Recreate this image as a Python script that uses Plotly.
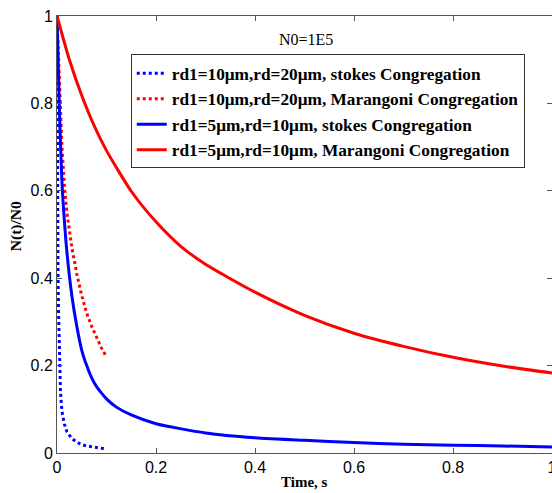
import plotly.graph_objects as go

# Blue dotted: rd1=10um, rd=20um, stokes
t_bd = [0, 0.0005, 0.001, 0.002, 0.003, 0.005, 0.007, 0.01, 0.015, 0.02, 0.03, 0.04, 0.05, 0.06, 0.07, 0.08, 0.09, 0.1]
v_bd = [1.0, 0.75, 0.6, 0.42, 0.33, 0.2, 0.14, 0.095, 0.066, 0.049, 0.033, 0.025, 0.019, 0.016, 0.014, 0.012, 0.011, 0.01]

# Red dotted: rd1=10um, rd=20um, Marangoni
t_rd = [0, 0.005, 0.01, 0.015, 0.02, 0.03, 0.04, 0.05, 0.06, 0.07, 0.08, 0.09, 0.1]
v_rd = [1.0, 0.84, 0.70, 0.61, 0.55, 0.47, 0.41, 0.36, 0.32, 0.29, 0.265, 0.24, 0.22]

# Blue solid: rd1=5um, rd=10um, stokes
t_bs = [0, 0.005, 0.01, 0.015, 0.02, 0.03, 0.04, 0.05, 0.06, 0.07, 0.08, 0.09, 0.1, 0.12, 0.15, 0.2, 0.3, 0.4, 0.5, 0.6, 0.7, 0.8, 0.9, 1.0]
v_bs = [1.0, 0.78, 0.62, 0.53, 0.46, 0.36, 0.29, 0.235, 0.2, 0.172, 0.152, 0.137, 0.124, 0.105, 0.087, 0.067, 0.046, 0.035, 0.029, 0.024, 0.020, 0.018, 0.016, 0.014]

# Red solid: rd1=5um, rd=10um, Marangoni
t_rs = [0, 0.025, 0.05, 0.075, 0.1, 0.15, 0.2, 0.25, 0.3, 0.4, 0.5, 0.6, 0.7, 0.8, 0.9, 1.0]
v_rs = [1.0, 0.90, 0.818, 0.749, 0.692, 0.599, 0.529, 0.473, 0.432, 0.368, 0.315, 0.274, 0.244, 0.219, 0.199, 0.183]

names = [
    "rd1=10μm,rd=20μm, stokes Congregation",
    "rd1=10μm,rd=20μm, Marangoni Congregation",
    "rd1=5μm,rd=10μm, stokes Congregation",
    "rd1=5μm,rd=10μm, Marangoni Congregation",
]

x_ticks = [0, 0.2, 0.4, 0.6, 0.8, 1]
x_ticklabels = ["0", "0.2", "0.4", "0.6", "0.8", "1"]
y_ticks = [0, 0.2, 0.4, 0.6, 0.8, 1]
y_ticklabels = ["0", "0.2", "0.4", "0.6", "0.8", "1"]

BLUE = "#0000ff"
RED = "#ff0000"
SERIF = "Liberation Serif, Times New Roman"

fig = go.Figure()
fig.add_trace(go.Scatter(x=t_bd, y=v_bd, mode="lines", name="<b>" + names[0] + "</b>",
                         line=dict(color=BLUE, width=3, dash="dot")))
fig.add_trace(go.Scatter(x=t_rd, y=v_rd, mode="lines", name="<b>" + names[1] + "</b>",
                         line=dict(color=RED, width=3, dash="dot")))
fig.add_trace(go.Scatter(x=t_bs, y=v_bs, mode="lines", name="<b>" + names[2] + "</b>",
                         line=dict(color=BLUE, width=3, shape="spline", smoothing=0.6)))
fig.add_trace(go.Scatter(x=t_rs, y=v_rs, mode="lines", name="<b>" + names[3] + "</b>",
                         line=dict(color=RED, width=3, shape="spline", smoothing=0.6)))

axis_common = dict(
    showline=True, linecolor="#555555", linewidth=1, mirror="allticks",
    ticks="inside", ticklen=5, tickcolor="#555555",
    showgrid=False, zeroline=False, automargin=False, ticklabeloverflow="allow",
    tickfont=dict(family="Liberation Sans, Arial", size=16, color="#000000"),
)

fig.update_layout(
    width=552, height=493,
    margin=dict(l=57, r=0, t=16, b=40),
    paper_bgcolor="white", plot_bgcolor="white",
    xaxis=dict(range=[0, 1], tickvals=x_ticks, ticktext=x_ticklabels, **axis_common),
    yaxis=dict(range=[0, 1], tickvals=y_ticks, ticktext=y_ticklabels, **axis_common),
    legend=dict(x=0.149, y=0.912, xanchor="left", yanchor="top",
                bgcolor="white", bordercolor="#333333", borderwidth=1,
                font=dict(family=SERIF, size=17.3, color="#000"),
                itemwidth=30, tracegroupgap=0),
    showlegend=True,
    annotations=[
        dict(x=0.503, y=0.947, xref="x", yref="y", text="N0=1E5", showarrow=False,
             font=dict(family=SERIF, size=16, color="#000")),
        dict(x=0.5, y=0, xref="paper", yref="paper", text="<b>Time, s</b>", showarrow=False,
             yanchor="top", yshift=-19, font=dict(family=SERIF, size=15, color="#000")),
        dict(x=0, y=0.519, xref="paper", yref="paper", text="<b>N(t)/N0</b>", showarrow=False,
             xanchor="right", xshift=-30, textangle=-90,
             font=dict(family=SERIF, size=15.5, color="#000")),
    ],
)

fig.write_html("out.html", config={"displayModeBar": False},
               post_script="document.body.style.margin='0';document.body.style.overflow='hidden';")
